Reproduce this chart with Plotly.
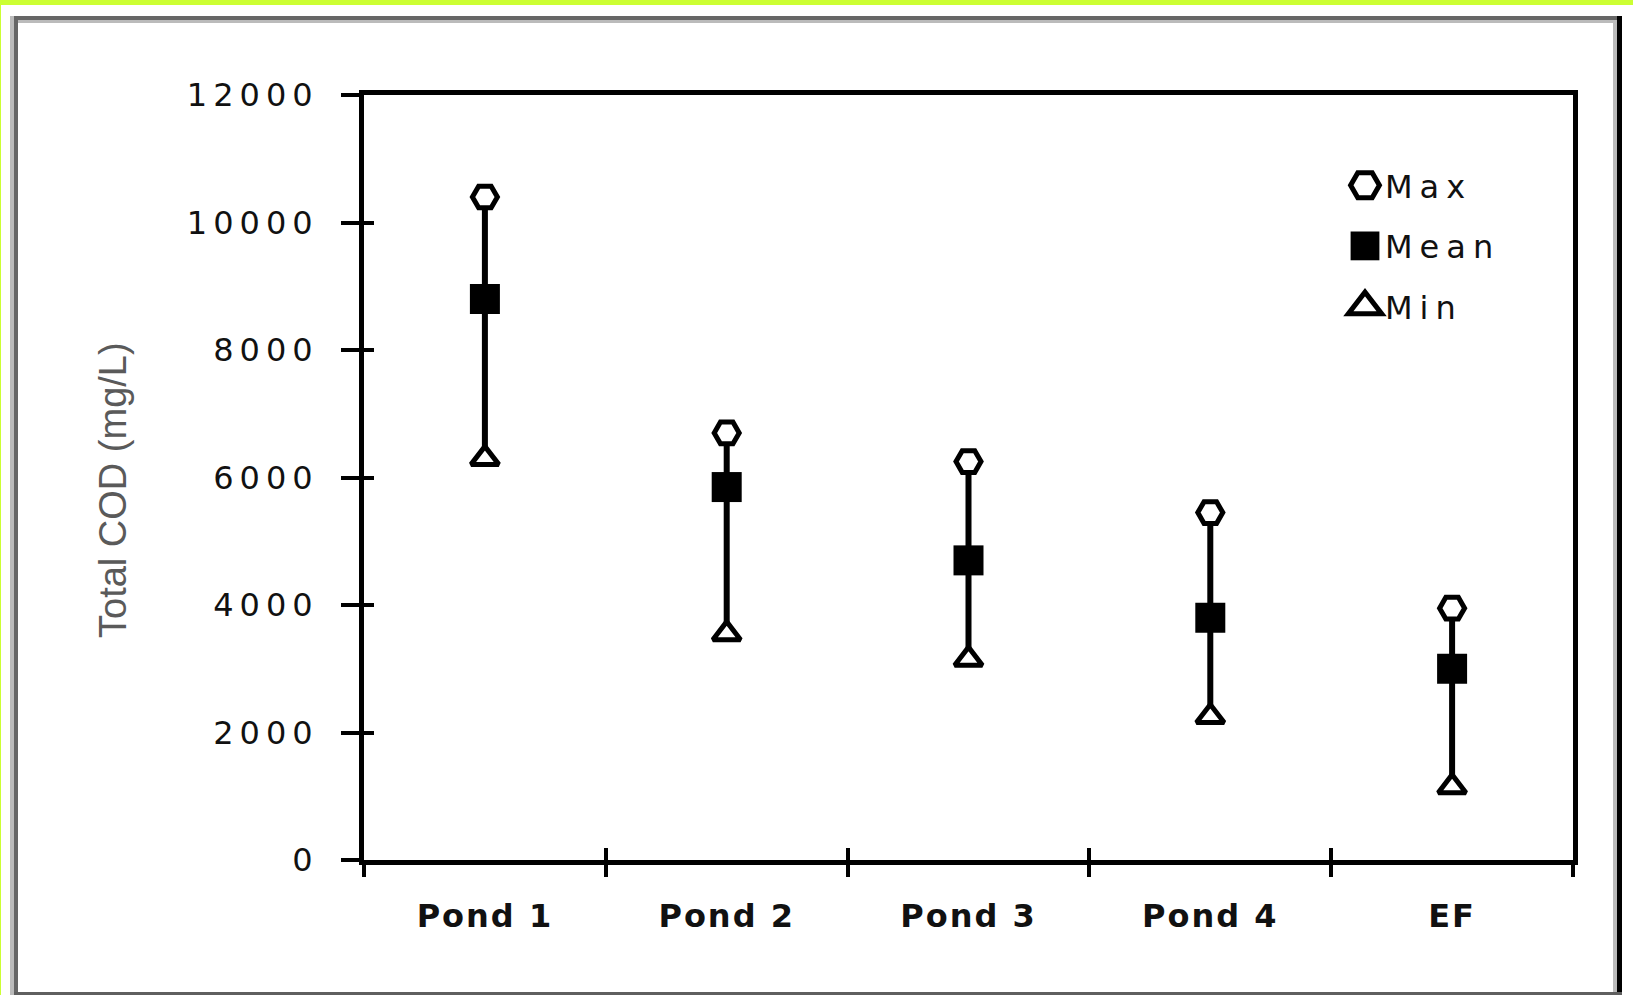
import plotly.graph_objects as go

# Total COD per sampling point (mg/L)
ponds = ["Pond 1", "Pond 2", "Pond 3", "Pond 4", "EF"]
cod_max = [10400, 6700, 6250, 5450, 3950]
cod_mean = [8800, 5850, 4700, 3800, 3000]
cod_min = [6300, 3550, 3150, 2250, 1150]
y_ticks = [0, 2000, 4000, 6000, 8000, 10000, 12000]

# Canvas and plot-area geometry in pixels
W, H = 1633, 995
L, R, T, B = 364, 60, 95, 135
PW = W - L - R
PH = H - T - B


def fx(px):
    return (px - L) / PW


def fy(py):
    return (H - B - py) / PH


fig = go.Figure()

# Mean markers carry the max-min range as a bar through each point
fig.add_trace(go.Scatter(
    x=ponds, y=cod_mean, name="Mean", mode="markers", legendrank=2,
    legendgroup="mean",
    marker=dict(symbol="square", size=30, color="black"),
    error_y=dict(type="data", symmetric=False,
                 array=[hi - m for hi, m in zip(cod_max, cod_mean)],
                 arrayminus=[m - lo for m, lo in zip(cod_mean, cod_min)],
                 thickness=6, width=0, color="black"),
))
fig.add_trace(go.Scatter(
    x=ponds, y=cod_max, name="Max", mode="markers", legendrank=1,
    legendgroup="max",
    marker=dict(symbol="hexagon2", size=25, color="white",
                line=dict(color="black", width=5)),
))
fig.add_trace(go.Scatter(
    x=ponds, y=cod_min, name="Min", mode="markers", legendrank=3,
    legendgroup="min",
    marker=dict(symbol="triangle-up", size=24, color="white",
                line=dict(color="black", width=5)),
))
# carrier for the inner half of the crossing tick marks
fig.add_trace(go.Scatter(x=ponds, y=cod_mean, xaxis="x2", yaxis="y2",
                         mode="none", showlegend=False, hoverinfo="skip"))

tick_font = dict(family="DejaVu Sans", size=32, color="#111")

fig.update_layout(
    width=W, height=H,
    margin=dict(l=L, r=R, t=T, b=B),
    paper_bgcolor="white", plot_bgcolor="white",
    showlegend=True,
    legend=dict(x=fx(1345), y=fy(158), xanchor="left", yanchor="top",
                font=dict(family="DejaVu Sans", size=32, color="#111"),
                bgcolor="rgba(0,0,0,0)", tracegroupgap=16,
                traceorder="grouped"),
    xaxis=dict(type="category", categoryorder="array", categoryarray=ponds,
               range=[-0.5, 4.5], showline=True, linecolor="black",
               linewidth=5, mirror=True, ticks="outside",
               tickson="boundaries", ticklen=12, tickwidth=4,
               tickcolor="black", showgrid=False, zeroline=False,
               tickfont=dict(tick_font, weight="bold"),
               ticklabelstandoff=24),
    yaxis=dict(range=[0, 12000], tickmode="array", tickvals=y_ticks,
               tickformat="d", showline=True, linecolor="black",
               linewidth=5, mirror=True, ticks="outside", ticklen=18,
               tickwidth=4, tickcolor="black", showgrid=False,
               zeroline=False, tickfont=tick_font, ticklabelstandoff=16),
    xaxis2=dict(type="category", categoryorder="array", categoryarray=ponds,
                range=[-0.5, 4.5], overlaying="x", anchor="y2", side="bottom",
                showline=False, ticks="inside", tickson="boundaries",
                ticklen=12, tickwidth=4, tickcolor="black",
                showticklabels=False, showgrid=False, zeroline=False),
    yaxis2=dict(range=[0, 12000], tickmode="array", tickvals=y_ticks,
                overlaying="y", anchor="x2", side="left", showline=False,
                ticks="inside", ticklen=10, tickwidth=4, tickcolor="black",
                showticklabels=False, showgrid=False, zeroline=False),
)

# Y-axis title
fig.add_annotation(text="Total COD (mg/L)", textangle=-90, showarrow=False,
                   xref="paper", yref="paper", x=fx(113), y=fy(490),
                   xanchor="center", yanchor="middle",
                   font=dict(family="Liberation Sans", size=38,
                             color="#5a5a5a"))

# Outer frame around the figure
frame = [
    ("#ccff33", 0, 0, W, 5),        # top band
    ("#ccff33", 0, 0, 1, H),        # left strip
    ("#666666", 14, 16, 1622, 20),  # top edge
    ("#bbbbbb", 18, 20, 1613, 23),
    ("#bbbbbb", 10, 16, 14, H),     # left edge
    ("#666666", 14, 16, 18, H),
    ("#bbbbbb", 1613, 20, 1617, H),  # right edge
    ("#000000", 1617, 16, 1622, H),
    ("#5f5f5f", 14, 992, 1622, H),  # bottom edge
]
for color, x0, y0, x1, y1 in frame:
    fig.add_shape(type="rect", xref="paper", yref="paper",
                  x0=fx(x0), x1=fx(x1), y0=fy(y0), y1=fy(y1),
                  fillcolor=color, line=dict(width=0), layer="above")

# Wider letter spacing on the tick and legend labels, larger legend symbols
post = """
var gd = document.querySelector('.js-plotly-plot');
gd.querySelectorAll('g.ytick text').forEach(function (t) { t.style.letterSpacing = '6px'; });
gd.querySelectorAll('g.xtick text').forEach(function (t) { t.style.letterSpacing = '2px'; });
gd.querySelectorAll('text.legendtext').forEach(function (t) { t.style.letterSpacing = '7px'; });
gd.querySelectorAll('.legend .scrollbox').forEach(function (s) { s.removeAttribute('clip-path'); });
gd.querySelectorAll('.legendpoints path.scatterpts').forEach(function (p) {
    p.setAttribute('transform', 'translate(20,0) scale(1.8)');
    p.style.strokeWidth = '2.8px';
});
"""

fig.write_html("out.html", post_script=post)
